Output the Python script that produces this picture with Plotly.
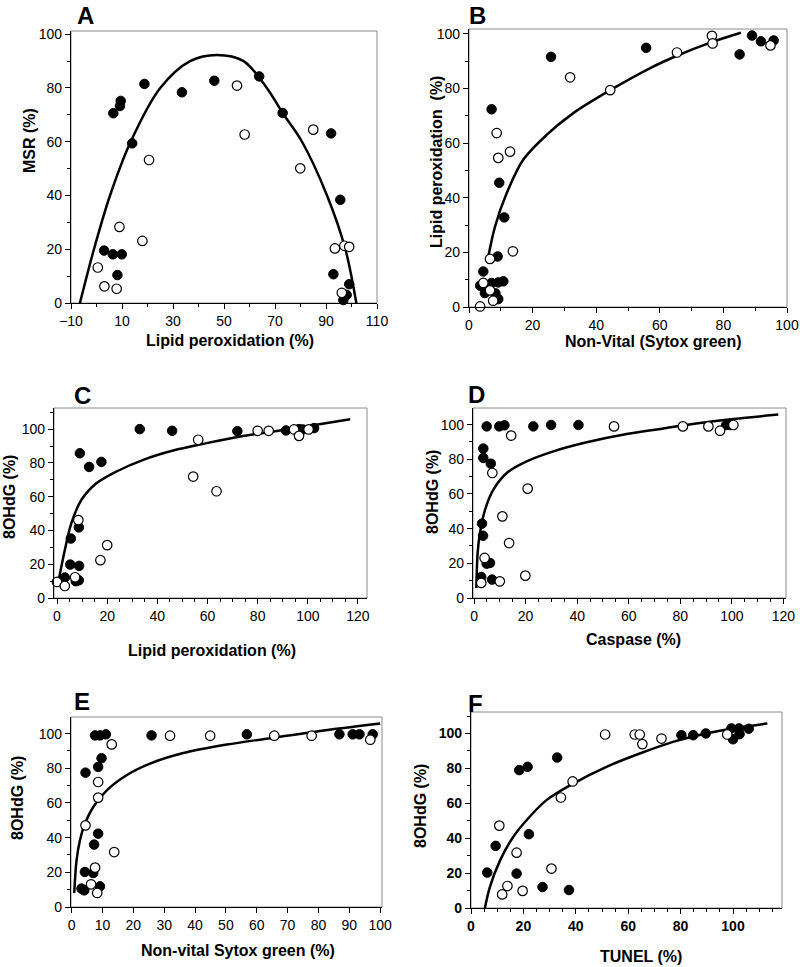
import plotly.graph_objects as go

W, H = 800, 967
FONT = "Arial, Liberation Sans, sans-serif"

# ---------------- data ----------------
# Panel A: Lipid peroxidation (%) vs MSR (%)
a_fill_x = [6.6, 9.2, 9.5, 18.8, 14.0, 33.5, 46.2, 63.8, 73.0, 92.0, 95.6, 92.9, 99.1, 98.1, 96.8, 3.0, 6.4, 9.9, 8.2]
a_fill_y = [70.6, 73.3, 75.2, 81.5, 59.4, 78.4, 82.7, 84.3, 70.7, 63.1, 38.4, 10.7, 7.0, 3.0, 1.1, 19.5, 18.1, 18.1, 10.4]
a_open_x = [0.5, 3.1, 7.9, 9.0, 18.0, 20.6, 55.1, 58.1, 79.9, 85.0, 93.5, 97.2, 99.1, 96.2]
a_open_y = [13.2, 6.2, 5.3, 28.3, 23.1, 53.2, 80.9, 62.7, 50.1, 64.5, 20.3, 21.3, 20.9, 3.8]
a_fit_x = [-6.5, -1.0, 5.3, 13.4, 25.0, 36.7, 47.2, 57.7, 66.8, 73.0, 80.6, 90.4, 97.6, 101.9]
a_fit_y = [0, 20, 40, 60, 80, 90, 92.3, 90, 80, 70.7, 60, 40, 20, 0]

# Panel B: Non-Vital (Sytox green) vs Lipid peroxidation (%)
b_fill_x = [7.1, 9.5, 11.1, 9.0, 4.5, 3.5, 5.0, 7.1, 9.2, 10.8, 9.2, 8.3, 25.8, 55.7, 85.1, 89.0, 91.8, 95.8]
b_fill_y = [72.4, 45.5, 32.8, 18.5, 13.0, 7.8, 5.1, 8.8, 9.0, 9.4, 2.9, 5.0, 91.6, 94.9, 92.5, 99.4, 97.3, 97.6]
b_open_x = [3.5, 4.5, 6.6, 7.6, 6.6, 8.7, 9.2, 12.9, 13.8, 31.8, 44.4, 65.4, 76.4, 76.6, 94.8]
b_open_y = [0.2, 8.8, 6.1, 2.3, 17.6, 63.7, 54.6, 56.9, 20.4, 84.1, 79.4, 93.2, 99.3, 96.5, 95.8]
b_fit_x = [6.1, 8.2, 11.9, 17.1, 24.4, 32.8, 44.4, 57.0, 65.4, 75.9, 85.5]
b_fit_y = [18.6, 29.5, 41.8, 54.0, 63.0, 71.0, 79.4, 87.5, 92.0, 96.8, 100.4]

# Panel C: Lipid peroxidation (%) vs 8OHdG (%)
c_fill_x = [3.1, 7.5, 8.7, 5.5, 5.3, 8.8, 8.7, 9.1, 12.8, 17.7, 33.0, 45.9, 71.9, 91.3, 96.5, 98.0, 102.5]
c_fill_y = [12.1, 9.9, 10.5, 35.2, 19.8, 19.0, 41.8, 85.7, 77.6, 80.6, 100, 99.0, 98.8, 99.2, 100, 99.8, 100.6]
c_open_x = [0, 3.1, 7.2, 8.5, 17.3, 20.0, 54.3, 56.3, 63.6, 80.0, 84.4, 94.5, 96.5, 100.3]
c_open_y = [9.5, 7.1, 12.3, 46.1, 22.4, 31.3, 71.9, 93.7, 63.2, 99.0, 99.0, 99.8, 96.0, 99.8]
c_fit_x = [0.4, 3.1, 5.7, 9.7, 15.7, 23.7, 34.4, 46.3, 59.7, 73.0, 86.3, 100.9, 116.9]
c_fit_y = [8.5, 28.3, 44.2, 58.0, 67.9, 74.9, 81.8, 87.3, 91.7, 95.6, 98.6, 102.0, 105.9]

# Panel D: Caspase (%) vs 8OHdG (%)
d_fill_x = [4.9, 9.8, 11.8, 23.0, 29.9, 40.5, 97.8, 99.3, 3.6, 3.6, 6.5, 3.1, 3.5, 4.9, 6.2, 2.8, 7.0]
d_fill_y = [99, 99, 99.6, 99, 99.8, 99.8, 99.8, 99.8, 86.2, 80.8, 77.5, 42.9, 35.9, 19.8, 20.2, 12.1, 10.6]
d_open_x = [14.4, 7.1, 20.8, 11.0, 13.6, 4.1, 2.8, 10.0, 19.9, 54.3, 81.0, 90.9, 95.4, 100.6]
d_open_y = [93.7, 72.1, 63.1, 47.1, 31.7, 23.1, 8.7, 9.6, 12.9, 99, 99, 99, 96.5, 99.8]
d_fit_x = [0.9, 1.4, 2.3, 4.3, 7.5, 12.7, 20.4, 30.8, 43.7, 59.2, 74.7, 87.7, 100.6, 118.0]
d_fit_y = [5.8, 26.0, 37.5, 51.0, 62.5, 72.1, 78.8, 84.6, 89.8, 94.6, 98.1, 101.0, 103.3, 105.8]

# Panel E: Non-vital Sytox green (%) vs 8OHdG (%)
e_fill_x = [7.6, 9.2, 11.1, 25.9, 56.8, 86.8, 91.1, 93.3, 97.6, 4.5, 8.6, 9.7, 8.6, 7.3, 4.3, 7.0, 3.2, 4.1, 9.2]
e_fill_y = [99, 99, 99.6, 99, 99.6, 99.6, 99.6, 99.6, 99.6, 77.5, 80.8, 85.8, 42.3, 36.0, 20.2, 19.6, 10.6, 9.6, 11.9]
e_open_x = [13.0, 8.6, 8.6, 4.5, 13.8, 7.6, 6.3, 8.3, 31.9, 44.9, 65.7, 77.8, 96.8]
e_open_y = [93.8, 72.1, 63.1, 47.1, 31.7, 22.7, 13.1, 8.1, 98.8, 98.8, 98.8, 98.8, 96.5]
e_fit_x = [0.85, 1.6, 2.7, 4.3, 7.0, 11.4, 17.8, 25.4, 36.2, 50.3, 63.2, 79.5, 100.0]
e_fit_y = [8.1, 26.9, 38.5, 48.0, 57.7, 67.3, 76.0, 82.7, 88.8, 93.7, 97.1, 101.3, 105.8]

# Panel F: TUNEL (%) vs 8OHdG (%)
f_fill_x = [6.2, 9.4, 18.4, 21.6, 32.9, 22.1, 17.4, 27.3, 37.4, 80.3, 84.8, 89.6, 99.4, 100.0, 102.3, 102.5, 106.0]
f_fill_y = [20.3, 35.6, 79.0, 80.9, 86.2, 42.3, 19.7, 12.0, 10.3, 99.0, 99.0, 100, 102.9, 96.7, 102.9, 99.6, 102.7]
f_open_x = [10.8, 17.4, 13.9, 11.9, 19.7, 30.7, 34.3, 38.8, 51.2, 62.5, 64.4, 65.4, 72.7, 97.8]
f_open_y = [47.2, 31.7, 12.6, 7.8, 9.8, 22.6, 63.3, 72.5, 99.4, 99.4, 99.4, 93.9, 97.1, 99.4]
f_fit_x = [5.3, 7.2, 11.1, 16.1, 21.2, 28.8, 39.0, 51.7, 64.4, 77.1, 89.8, 100.0, 113.1]
f_fit_y = [0, 12.0, 27.3, 40.7, 50.3, 61.8, 71.3, 80.9, 88.5, 95.2, 100.0, 102.9, 105.7]

panel_letters = ["A", "B", "C", "D", "E", "F"]
x_titles = ["Lipid peroxidation (%)", "Non-Vital (Sytox green)", "Lipid peroxidation (%)",
            "Caspase (%)", "Non-vital Sytox green (%)", "TUNEL (%)"]
y_titles = ["MSR (%)", "Lipid peroxidation\u00a0\u00a0(%)", "8OHdG (%)", "8OHdG (%)", "8OHdG (%)", "8OHdG (%)"]

# ---------------- layout geometry (pixels) ----------------
# (left, right, top, bottom) of each plot area
boxes = [(71, 377, 31, 303), (469, 787, 29, 307), (54, 367, 408, 598),
         (473, 786, 408, 598), (71, 382, 717, 907), (471, 782, 712, 908)]
xranges = [[-10, 110], [0, 100], [-1.2, 123.6], [-0.4, 121], [-0.2, 100.6], [0, 118.7]]
yranges = [[0, 101.2], [0, 101.8], [0, 112.5], [0, 109.6], [0, 109.6], [0, 112.3]]
xtick = [(-10, 20, 10), (0, 20, 10), (0, 20, 5), (0, 20, 5), (0, 10, None), (0, 20, 5)]
# letter anchor: (left x, top y of text box)
letter_pos = [(75, 0), (467, 0), (72, 380), (466, 379), (72, 686), (466, 688)]
xtitle_pos = [(230, 340), (653, 341), (212, 650), (633, 639), (238, 950), (641, 956)]
ytitle_pos = [(30, 141), (436, 162), (9, 497), (432, 492), (17, 798), (420, 806)]

series = [
    (a_fill_x, a_fill_y, a_open_x, a_open_y, a_fit_x, a_fit_y),
    (b_fill_x, b_fill_y, b_open_x, b_open_y, b_fit_x, b_fit_y),
    (c_fill_x, c_fill_y, c_open_x, c_open_y, c_fit_x, c_fit_y),
    (d_fill_x, d_fill_y, d_open_x, d_open_y, d_fit_x, d_fit_y),
    (e_fill_x, e_fill_y, e_open_x, e_open_y, e_fit_x, e_fit_y),
    (f_fill_x, f_fill_y, f_open_x, f_open_y, f_fit_x, f_fit_y),
]

fig = go.Figure()
layout = dict(template="none", width=W, height=H, margin=dict(l=0, r=0, t=0, b=0, pad=0),
              autosize=False,
              paper_bgcolor="white", plot_bgcolor="white", showlegend=False,
              font=dict(family=FONT, color="black"))
shapes, annotations = [], []

for i, (fx, fy, ox, oy, cx, cy) in enumerate(series):
    n = i + 1
    xa = "x" if n == 1 else f"x{n}"
    ya = "y" if n == 1 else f"y{n}"
    fig.add_trace(go.Scatter(x=cx, y=cy, mode="lines", xaxis=xa, yaxis=ya,
                             line=dict(color="black", width=2.5, shape="spline", smoothing=0.9),
                             cliponaxis=False, hoverinfo="skip"))
    fig.add_trace(go.Scatter(x=fx, y=fy, mode="markers", xaxis=xa, yaxis=ya,
                             marker=dict(size=9.5, color="black", line=dict(color="black", width=1)),
                             cliponaxis=False))
    fig.add_trace(go.Scatter(x=ox, y=oy, mode="markers", xaxis=xa, yaxis=ya,
                             marker=dict(size=9.5, color="white", line=dict(color="black", width=1.2)),
                             cliponaxis=False))

    l, r, t, b = boxes[i]
    bold = (i == 5)
    tf = dict(family=FONT, size=14, color="black", weight="bold" if bold else "normal")
    t0, dt, mdt = xtick[i]
    xdict = dict(domain=[l / W, r / W], range=xranges[i], anchor=ya, automargin=False,
                 showline=True, linecolor="black", linewidth=1.3, mirror=False,
                 ticks="outside", ticklen=5, tickwidth=1, tickcolor="black",
                 tick0=t0, dtick=dt, showgrid=False, zeroline=False, tickfont=tf)
    if mdt:
        xdict["minor"] = dict(tick0=t0, dtick=mdt, ticks="outside", ticklen=3,
                              tickwidth=1, tickcolor="black", showgrid=False)
    ydict = dict(domain=[1 - b / H, 1 - t / H], range=yranges[i], anchor=xa, automargin=False,
                 showline=True, linecolor="black", linewidth=1.3, mirror=False,
                 ticks="outside", ticklen=5, tickwidth=1, tickcolor="black",
                 tick0=0, dtick=20, showgrid=False, zeroline=False, tickfont=tf,
                 minor=dict(tick0=0, dtick=10, ticks="outside", ticklen=3,
                            tickwidth=1, tickcolor="black", showgrid=False))
    layout["xaxis" if n == 1 else f"xaxis{n}"] = xdict
    layout["yaxis" if n == 1 else f"yaxis{n}"] = ydict

    shapes.append(dict(type="rect", xref="paper", yref="paper",
                       x0=l / W, x1=r / W, y0=1 - b / H, y1=1 - t / H,
                       line=dict(color="#8a8a8a", width=1), layer="below"))

    lx, ly = letter_pos[i]
    annotations.append(dict(text=f"<b>{panel_letters[i]}</b>", xref="paper", yref="paper",
                            x=lx / W, y=1 - ly / H, xanchor="left", yanchor="top",
                            showarrow=False, font=dict(family=FONT, size=24, color="black")))
    tx, ty = xtitle_pos[i]
    annotations.append(dict(text=f"<b>{x_titles[i]}</b>", xref="paper", yref="paper",
                            x=tx / W, y=1 - ty / H, xanchor="center", yanchor="middle",
                            showarrow=False, font=dict(family=FONT, size=16, color="black")))
    yx, yy = ytitle_pos[i]
    annotations.append(dict(text=f"<b>{y_titles[i]}</b>", xref="paper", yref="paper",
                            x=yx / W, y=1 - yy / H, xanchor="center", yanchor="middle",
                            textangle=-90, showarrow=False,
                            font=dict(family=FONT, size=16, color="black")))

layout["shapes"] = shapes
layout["annotations"] = annotations
fig.update_layout(**layout)
fig.write_html("out.html", config={"displayModeBar": False},
               post_script="document.body.style.margin='0';document.body.style.padding='0';"
                           "document.body.style.overflow='hidden';")
